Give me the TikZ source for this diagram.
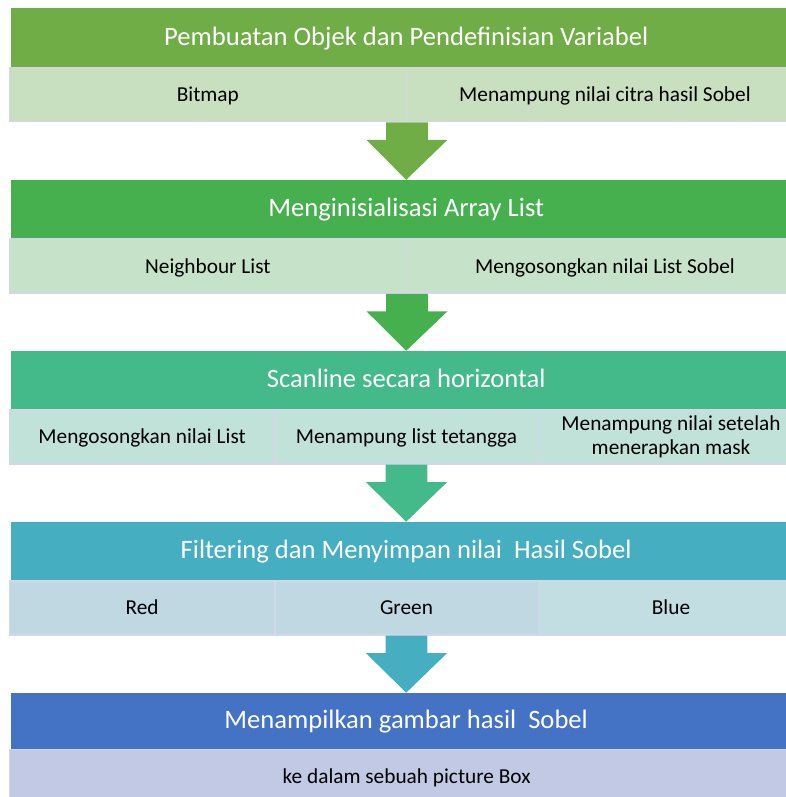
\documentclass[tikz,border=0pt]{standalone}
\usepackage{fontspec}
\setmainfont{Carlito}
\usetikzlibrary{calc}
\definecolor{hA}{HTML}{70AD47}
\definecolor{hB}{HTML}{46B04F}
\definecolor{hC}{HTML}{44BA8B}
\definecolor{hD}{HTML}{45AFC1}
\definecolor{hE}{HTML}{4472C4}
\definecolor{sA}{HTML}{C8DFC0}
\definecolor{sB}{HTML}{C6E2C8}
\definecolor{sC}{HTML}{C1E2D9}
\definecolor{sD}{HTML}{C0D8E2}
\definecolor{sDb}{HTML}{C2DEE3}
\definecolor{sE}{HTML}{C1C9E5}
\definecolor{bord}{HTML}{D3D7E9}
\newcommand\blockarrow[3]{%
  \fill[#3] ($(#1)+(-20.8,0)$) -- ($(#1)+(20.8,0)$) -- ($(#1)+(20.8,17.5)$)
    -- ($(#1)+(40.5,17.5)$) -- (#2) -- ($(#1)+(-40.5,17.5)$)
    -- ($(#1)+(-20.8,17.5)$) -- cycle;}
\begin{document}
\begin{tikzpicture}[x=1pt,y=-1pt,
  hdr/.style={anchor=north west, minimum width=790pt, minimum height=58.5pt,
    inner sep=0pt, text=white, font=\fontsize{26.6}{31}\selectfont,
    text height=20pt, text depth=5pt},
  cell/.style={anchor=north west, minimum height=54pt, inner sep=0pt,
    draw=bord, line width=1.5pt, font=\fontsize{21.3}{24}\selectfont, align=center},
  oneline/.style={text height=18pt, text depth=4pt}]
\useasboundingbox (0,0) rectangle (786,797);
\clip (0,0) rectangle (786,797);
% row 1
\node[hdr, fill=hA] (h1) at (11,8.3) {Pembuatan Objek dan Pendefinisian Variabel};
\node[cell, oneline, fill=sA, minimum width=396.75pt] (s1a) at (8.75,66.8) {Bitmap};
\node[cell, oneline, fill=sA, minimum width=397.5pt] (s1b) at (405.5,66.8) {Menampung nilai citra hasil Sobel};
% row 2
\node[hdr, fill=hB] (h2) at (11,179.8) {Menginisialisasi Array List};
\node[cell, oneline, fill=sB, minimum width=396.75pt] (s2a) at (8.75,238.3) {Neighbour List};
\node[cell, oneline, fill=sB, minimum width=397.5pt] (s2b) at (405.5,238.3) {Mengosongkan nilai List Sobel};
% row 3
\node[hdr, fill=hC] (h3) at (11,350.7) {Scanline secara horizontal};
\node[cell, oneline, fill=sC, minimum width=265.25pt] (s3a) at (8.75,409.2) {Mengosongkan nilai List};
\node[cell, oneline, fill=sC, minimum width=263.5pt] (s3b) at (274,409.2) {Menampung list tetangga};
\node[cell, fill=sC, minimum width=265.5pt] (s3c) at (537.5,409.2) {Menampung nilai setelah\\menerapkan mask};
% row 4
\node[hdr, fill=hD] (h4) at (11,521.7) {Filtering dan Menyimpan nilai\ \ Hasil Sobel};
\node[cell, oneline, fill=sD, minimum width=265.25pt] (s4a) at (8.75,580.2) {Red};
\node[cell, oneline, fill=sD, minimum width=263.5pt] (s4b) at (274,580.2) {Green};
\node[cell, oneline, fill=sDb, minimum width=265.5pt] (s4c) at (537.5,580.2) {Blue};
% row 5
\node[hdr, fill=hE, minimum height=56pt] (h5) at (11,692.7) {Menampilkan gambar hasil\ \ Sobel};
\node[cell, oneline, fill=sE, minimum width=794.25pt] (s5a) at (8.75,748.7) {ke dalam sebuah picture Box};
% arrows
\blockarrow{s1a.south east}{h2.north}{hA}
\blockarrow{s2a.south east}{h3.north}{hB}
\blockarrow{s3b.south}{h4.north}{hC}
\blockarrow{s4b.south}{h5.north}{hD}
\end{tikzpicture}
\end{document}
